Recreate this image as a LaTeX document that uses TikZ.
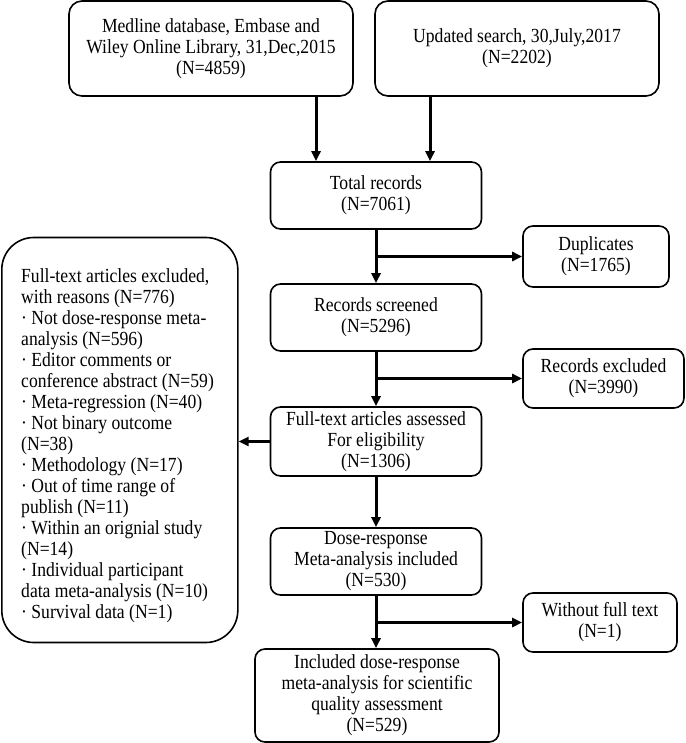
\documentclass[tikz,border=0pt]{standalone}
\usepackage{fontspec}
\setmainfont{Liberation Serif}[FakeStretch=0.88]
\usetikzlibrary{arrows.meta,calc}
\begin{document}
\begin{tikzpicture}[x=1pt,y=-1pt,
  txt/.style={font=\fontsize{20}{21}\selectfont},
  box/.style={draw, line width=1.6pt, rounded corners=10pt, align=center, inner sep=0pt, txt},
  arr/.style={line width=3pt, -{Triangle[length=10pt,width=9pt]}}]
\useasboundingbox (0,0) rectangle (685,743);
% top sources
\node[box, rounded corners=13pt, minimum width=284pt, minimum height=95pt] (b1) at (211,48.5)
  {Medline database, Embase and\\Wiley Online Library, 31,Dec,2015\\(N=4859)};
\node[box, rounded corners=13pt, minimum width=284pt, minimum height=95pt] (b2) at (517,48.5)
  {Updated search, 30,July,2017\\(N=2202)};
% main column
\node[box, minimum width=211pt, minimum height=67pt] (total) at (376,195.5) {Total records\\(N=7061)};
\node[box, minimum width=211pt, minimum height=67pt] (screened) at (376,317.5) {Records screened\\(N=5296)};
\node[box, minimum width=211pt, minimum height=69pt] (fulltext) at (376,441.5)
  {Full-text articles assessed\\For eligibility\\(N=1306)};
\node[box, minimum width=211pt, minimum height=67pt] (dose) at (376,561.5)
  {Dose-response\\Meta-analysis included\\(N=530)};
\node[box, minimum width=244pt, minimum height=93pt] (incl) at (377,695.5)
  {Included dose-response\\meta-analysis for scientific\\quality assessment\\(N=529)};
% side boxes
\node[box, minimum width=146pt, minimum height=61pt] (dup) at (596,256.5) {Duplicates\\(N=1765)};
\node[box, minimum width=161pt, minimum height=59pt] (excl) at (603.5,378.5) {Records excluded\\(N=3990)};
\node[box, minimum width=154pt, minimum height=59pt] (wft) at (600,622.5) {Without full text\\(N=1)};
% left exclusion box
\node[draw, line width=1.6pt, rounded corners=32pt, minimum width=236pt, minimum height=405pt, inner sep=0pt] (reasons) at (119.8,440) {};
\node[txt, align=left, anchor=west, inner sep=0pt] (reasonstxt) at (21,445.5)
  {Full-text articles excluded,\\with reasons (N=776)\\%
   \textperiodcentered\ Not dose-response meta-\\analysis (N=596)\\%
   \textperiodcentered\ Editor comments or\\conference abstract (N=59)\\%
   \textperiodcentered\ Meta-regression (N=40)\\%
   \textperiodcentered\ Not binary outcome\\(N=38)\\%
   \textperiodcentered\ Methodology (N=17)\\%
   \textperiodcentered\ Out of time range of\\publish (N=11)\\%
   \textperiodcentered\ Within an orignial study\\(N=14)\\%
   \textperiodcentered\ Individual participant\\data meta-analysis (N=10)\\%
   \textperiodcentered\ Survival data (N=1)};
% connectors
\coordinate (a1) at (316,0);
\coordinate (a2) at (430,0);
\draw[arr] (b1.south -| a1) -- (total.north -| a1);
\draw[arr] (b2.south -| a2) -- (total.north -| a2);
\draw[arr] (total.south) -- (screened.north);
\draw[arr] (total.south |- dup.west) -- (dup.west);
\draw[arr] (screened.south) -- (fulltext.north);
\draw[arr] (screened.south |- excl.west) -- (excl.west);
\draw[arr] (fulltext.west) -- (fulltext.west -| reasons.east);
\draw[arr] (fulltext.south) -- (dose.north);
\draw[arr] (dose.south) -- (dose.south |- incl.north);
\draw[arr] (dose.south |- wft.west) -- (wft.west);
\end{tikzpicture}
\end{document}
